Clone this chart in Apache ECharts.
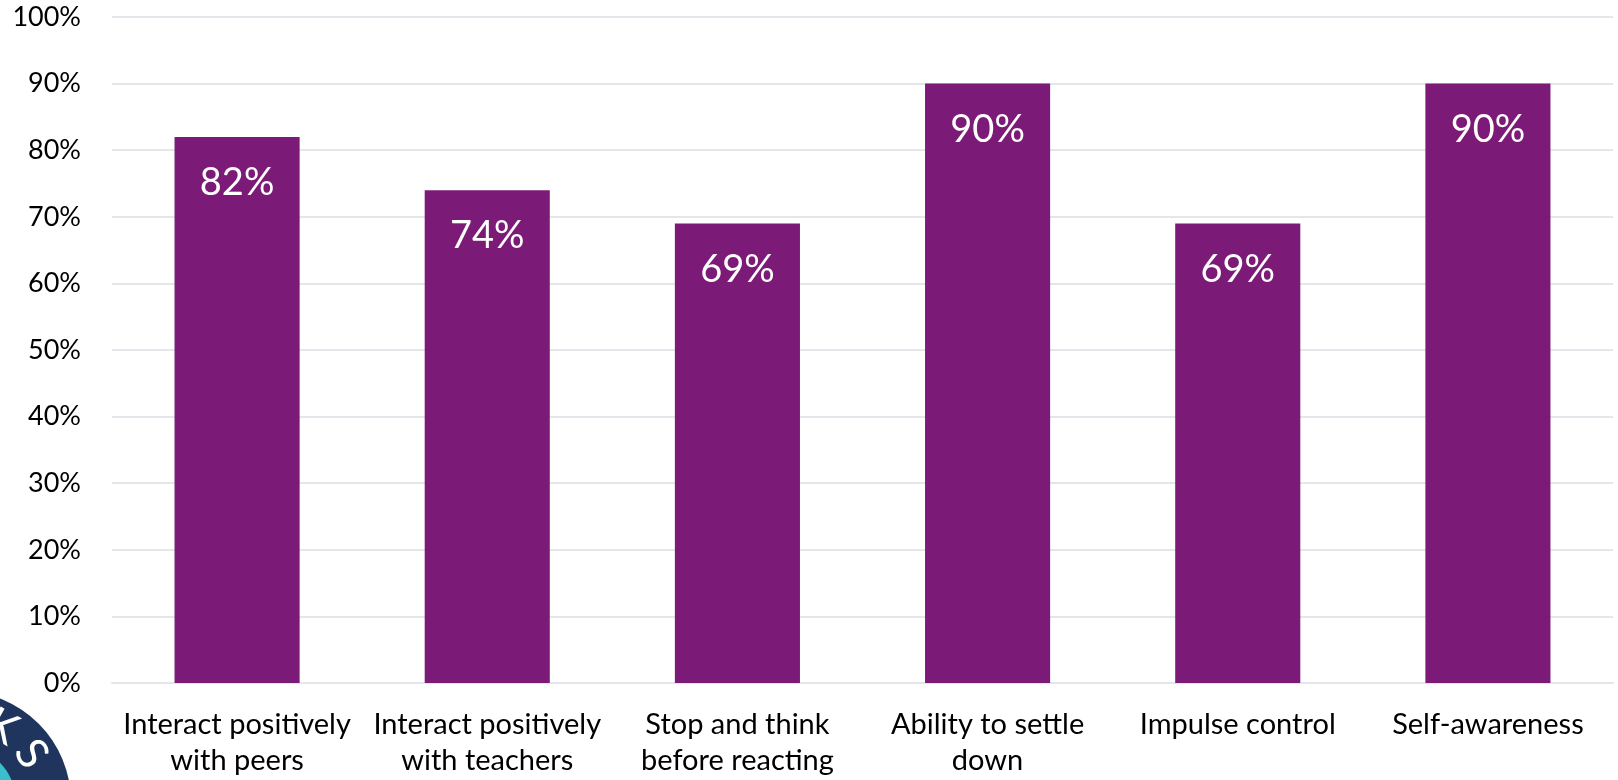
<!DOCTYPE html>
<html>
<head>
<meta charset="utf-8">
<script src="https://cdn.jsdelivr.net/npm/echarts@6/dist/echarts.min.js"></script>
<style>
html,body{margin:0;padding:0;background:#fff;}
#chart{width:1618px;height:780px;}
</style>
</head>
<body>
<div id="chart"></div>
<script>
const categories = [
  "Interact positively\nwith peers",
  "Interact positively\nwith teachers",
  "Stop and think\nbefore reacting",
  "Ability to settle\ndown",
  "Impulse control",
  "Self-awareness"
];
const values = [82, 74, 69, 90, 69, 90];
const yTicks = { min: 0, max: 100, interval: 10 };
const logoLetters = ["K", "S"];

const FONT = "Lato";
const chart = echarts.init(document.getElementById('chart'));

// logo decoration (partially visible circle at bottom-left)
const cx = -40, cy = 802;
const letterAngles = [-61, -34];
const logoGraphics = [
  { type: 'circle', shape: { cx: cx, cy: cy, r: 111 }, style: { fill: '#1f355e' }, z: 10 },
  { type: 'circle', shape: { cx: cx, cy: cy, r: 56 }, style: { fill: '#3cbfcc' }, z: 11 }
];
logoLetters.forEach((ch, i) => {
  const a = letterAngles[i] * Math.PI / 180;
  const r = 86;
  logoGraphics.push({
    type: 'text',
    x: cx + r * Math.cos(a),
    y: cy + r * Math.sin(a),
    rotation: -(letterAngles[i] + 90) * Math.PI / 180,
    style: { text: ch, fill: '#fff', font: '44px ' + FONT, align: 'center', verticalAlign: 'middle' },
    z: 12
  });
});

chart.setOption({
  animation: false,
  grid: { left: 112, right: 5, top: 17, bottom: 97, containLabel: false },
  xAxis: {
    type: 'category',
    data: categories,
    axisLine: { show: true, lineStyle: { color: '#e3e6eb', width: 2 } },
    axisTick: { show: false },
    axisLabel: {
      interval: 0,
      color: '#000',
      fontFamily: FONT,
      fontSize: 29,
      lineHeight: 36,
      margin: 24
    }
  },
  yAxis: {
    type: 'value',
    min: yTicks.min, max: yTicks.max, interval: yTicks.interval,
    axisLine: { show: false },
    axisTick: { show: false },
    splitLine: { lineStyle: { color: '#e3e6eb', width: 2 } },
    axisLabel: {
      formatter: '{value}%',
      color: '#000',
      fontFamily: FONT,
      fontSize: 27,
      margin: 31
    }
  },
  series: [{
    type: 'bar',
    data: values,
    barWidth: '50%',
    itemStyle: { color: '#7b1a77' },
    label: {
      show: true,
      position: 'insideTop',
      distance: 27,
      formatter: '{c}%',
      color: '#fff',
      fontFamily: FONT,
      fontSize: 38
    }
  }],
  graphic: logoGraphics
});
</script>
</body>
</html>
